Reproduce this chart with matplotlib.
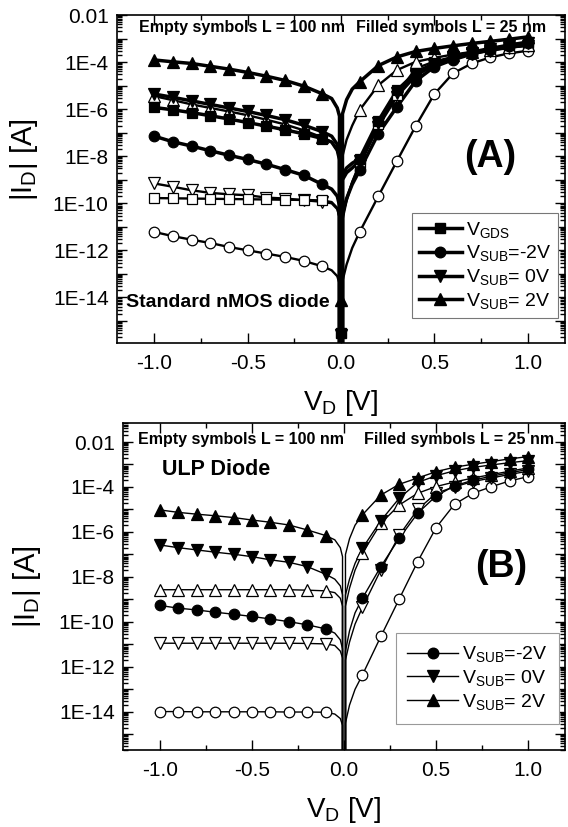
import numpy as np
import matplotlib
matplotlib.use('Agg')
import matplotlib.pyplot as plt
from matplotlib.lines import Line2D
from matplotlib.ticker import FixedLocator, LogLocator, FuncFormatter, MultipleLocator

plt.rcParams['font.family'] = ['Liberation Sans', 'DejaVu Sans']
plt.rcParams['mathtext.fontset'] = 'custom'
plt.rcParams['mathtext.rm'] = 'Liberation Sans'
plt.rcParams['mathtext.it'] = 'Liberation Sans:italic'
plt.rcParams['mathtext.bf'] = 'Liberation Sans:bold'
plt.rcParams['axes.unicode_minus'] = False

# drain voltage grid: markers every 0.1 V, plus a few points close to 0 V for the lines
V_LINE = [-1.0, -0.9, -0.8, -0.7, -0.6, -0.5, -0.4, -0.3, -0.2, -0.1,
          -0.05, -0.02, -0.008, 0.008, 0.03, 0.06,
          0.1, 0.2, 0.3, 0.4, 0.5, 0.6, 0.7, 0.8, 0.9, 1.0]

# log10(|I_D| / A)
# (A) standard nMOS diode
A_L25_GDS = [-5.93, -6.03, -6.15, -6.28, -6.42, -6.57, -6.72, -6.88, -7.05, -7.25,
             -7.4, -7.75, -8.15, -8.8, -8.5, -8.3,
             -8.1, -6.5, -5.2, -4.45, -4.05, -3.80, -3.58, -3.42, -3.28, -3.15]
A_L25_M2 = [-7.15, -7.39, -7.57, -7.77, -7.96, -8.14, -8.34, -8.57, -8.81, -9.20,
            -9.4, -9.7, -10.1, -10.4, -9.8, -9.2,
            -8.6, -7.04, -5.90, -4.80, -4.20, -3.90, -3.66, -3.48, -3.33, -3.20]
A_L25_0V = [-5.36, -5.50, -5.65, -5.80, -5.95, -6.10, -6.27, -6.45, -6.68, -6.96,
            -7.15, -7.5, -7.9, -9.0, -8.7, -8.5,
            -8.2, -6.6, -5.3, -4.55, -4.13, -3.85, -3.62, -3.45, -3.30, -3.17]
A_L25_2V = [-3.91, -3.99, -4.06, -4.18, -4.30, -4.44, -4.60, -4.78, -5.02, -5.35,
            -5.55, -5.95, -6.3, -6.2, -5.6, -5.15,
            -4.84, -4.15, -3.78, -3.55, -3.42, -3.31, -3.21, -3.12, -3.03, -2.93]
A_L100_GDS = [-9.78, -9.79, -9.80, -9.81, -9.82, -9.83, -9.84, -9.85, -9.86, -9.88,
              -9.95, -10.2, -10.6, -10.7, -9.9, -9.1,
              -8.3, -6.65, -5.38, -4.27, -3.98, -3.78, -3.63, -3.50, -3.39, -3.30]
A_L100_M2 = [-11.22, -11.40, -11.55, -11.69, -11.86, -12.00, -12.14, -12.28, -12.45, -12.68,
             -12.85, -13.1, -13.4, -13.3, -12.6, -11.9,
             -11.22, -9.70, -8.20, -6.72, -5.36, -4.48, -4.06, -3.80, -3.63, -3.52]
A_L100_0V = [-9.16, -9.30, -9.45, -9.56, -9.62, -9.66, -9.76, -9.80, -9.87, -9.94,
             -10.0, -10.25, -10.6, -10.6, -9.8, -9.1,
             -8.38, -6.75, -5.47, -4.60, -4.09, -3.80, -3.65, -3.52, -3.40, -3.30]
A_L100_2V = [-5.45, -5.62, -5.80, -5.95, -6.10, -6.26, -6.45, -6.65, -6.90, -7.20,
             -7.4, -7.75, -8.1, -8.0, -7.3, -6.7,
             -6.04, -4.98, -4.34, -3.99, -3.82, -3.68, -3.57, -3.47, -3.38, -3.29]
# (A) points measured at V_D = 0
A_ZERO_L25_2V = -14.1
A_ZERO_L25_GDS = -15.5
A_ZERO_L25_0V = -15.6

# (B) ULP diode
B_L25_M2 = [-9.27, -9.39, -9.47, -9.57, -9.66, -9.76, -9.87, -9.99, -10.13, -10.31,
            -10.5, -10.8, -11.2, -11.3, -10.4, -9.6,
            -8.95, -7.54, -6.28, -5.17, -4.40, -3.95, -3.70, -3.52, -3.37, -3.22]
B_L25_0V = [-6.58, -6.70, -6.80, -6.90, -6.99, -7.10, -7.24, -7.35, -7.54, -7.88,
            -8.1, -8.4, -8.8, -8.8, -8.1, -7.4,
            -6.73, -5.5, -4.5, -3.80, -3.50, -3.28, -3.13, -3.02, -2.92, -2.83]
B_L25_2V = [-5.02, -5.13, -5.21, -5.28, -5.36, -5.47, -5.57, -5.69, -5.91, -6.16,
            -6.35, -6.7, -7.1, -7.0, -6.3, -5.7,
            -5.24, -4.36, -3.88, -3.60, -3.32, -3.12, -2.99, -2.87, -2.75, -2.65]
B_L100_M2 = [-13.99, -13.99, -14.0, -14.0, -14.0, -14.0, -14.0, -14.01, -14.01, -14.02,
             -14.1, -14.3, -14.6, -14.5, -13.7, -13.0,
             -12.36, -10.65, -8.98, -7.32, -5.81, -4.77, -4.28, -3.99, -3.73, -3.54]
B_L100_0V = [-10.95, -10.95, -10.95, -10.95, -10.95, -10.95, -10.95, -10.95, -10.96, -10.98,
             -11.05, -11.3, -11.6, -11.7, -10.9, -10.1,
             -9.36, -7.69, -6.15, -5.0, -4.28, -3.99, -3.76, -3.60, -3.44, -3.30]
B_L100_2V = [-8.57, -8.57, -8.57, -8.57, -8.57, -8.57, -8.57, -8.57, -8.59, -8.62,
             -8.7, -8.95, -9.3, -9.3, -8.5, -7.7,
             -6.95, -5.62, -4.80, -4.28, -3.98, -3.78, -3.60, -3.45, -3.30, -3.15]

LEG_A = [r'V$_{\rm GDS}$', r'V$_{\rm SUB}$=-2V', r'V$_{\rm SUB}$= 0V', r'V$_{\rm SUB}$= 2V']
LEG_B = [r'V$_{\rm SUB}$=-2V', r'V$_{\rm SUB}$= 0V', r'V$_{\rm SUB}$= 2V']
MS = {'s': 7.0, 'o': 7.6, 'v': 8.2, '^': 8.2}


def draw(ax, logs, marker, filled, lw):
    v = np.array(V_LINE)
    cur = 10.0 ** np.array(logs)
    k = np.searchsorted(v, 0.0)
    # |I| = 0 at V = 0: the log axis sends the line straight down
    ax.plot(np.insert(v, k, 0.0), np.insert(cur, k, 0.0), color='k', lw=lw,
            zorder=2, solid_joinstyle='round')
    grid = np.isclose(v * 10, np.round(v * 10))
    ax.plot(v[grid], cur[grid], ls='none', marker=marker, ms=MS[marker],
            mfc='k' if filled else 'white', mec='k', mew=0.9, zorder=3)


def fmt(y, pos):
    e = int(round(np.log10(y)))
    if e % 2:
        return ''
    return '0.01' if e == -2 else '1E%d' % e


def style(ax, ylim):
    ax.set_yscale('log')
    ax.set_xlim(-1.2, 1.2)
    ax.set_ylim(*ylim)
    ax.xaxis.set_major_locator(MultipleLocator(0.5))
    ax.xaxis.set_minor_locator(MultipleLocator(0.25))
    ax.xaxis.set_major_formatter(FuncFormatter(lambda x, p: '%.1f' % x))
    ax.yaxis.set_major_locator(FixedLocator([10.0 ** e for e in range(-1, -18, -1)]))
    ax.yaxis.set_minor_locator(LogLocator(base=10, subs=np.arange(2, 10), numticks=60))
    ax.yaxis.set_major_formatter(FuncFormatter(fmt))
    ax.tick_params(which='both', direction='in', top=True, right=True, width=1.0)
    ax.tick_params(which='major', length=7, labelsize=15, pad=6)
    ax.tick_params(which='minor', length=3.5)
    ax.tick_params(axis='x', which='major', pad=8)
    for s in ax.spines.values():
        s.set_linewidth(1.2)


fig = plt.figure(figsize=(5.68, 8.27), dpi=100)
axA = fig.add_axes([117 / 568, 1 - 343 / 827, 448 / 568, 328 / 827])
axB = fig.add_axes([123 / 568, 1 - 750 / 827, 442 / 568, 327 / 827])

# panel A
for logs, m, f in [(A_L100_M2, 'o', False), (A_L100_0V, 'v', False), (A_L100_GDS, 's', False),
                   (A_L100_2V, '^', False)]:
    draw(axA, logs, m, f, 1.7)
for logs, m, f in [(A_L25_M2, 'o', True), (A_L25_0V, 'v', True), (A_L25_GDS, 's', True),
                   (A_L25_2V, '^', True)]:
    draw(axA, logs, m, f, 2.5)
for val, m in [(A_ZERO_L25_2V, '^'), (A_ZERO_L25_GDS, 's'), (A_ZERO_L25_0V, 'v')]:
    axA.plot([0.0], [10.0 ** val], ls='none', marker=m, ms=MS[m], mfc='k', mec='k', zorder=3)
style(axA, (1.15e-16, 1e-2))

hA = [Line2D([], [], color='k', lw=2.5, marker=m, ms=MS[m], mfc='k', mec='k')
      for m in ['s', 'o', 'v', '^']]
legA = axA.legend(hA, LEG_A, loc='lower right', bbox_to_anchor=(0.984, 0.076),
                  fontsize=14, handlelength=2.2, handletextpad=0.2, labelspacing=0.2,
                  borderpad=0.35, borderaxespad=0, fancybox=False, framealpha=1,
                  edgecolor='#777777')
legA.get_frame().set_linewidth(0.8)

axA.text(-1.08, 10 ** -2.51, 'Empty symbols L = 100 nm', fontsize=11.5, fontweight='bold',
         va='center', ha='left')
axA.text(0.08, 10 ** -2.51, 'Filled symbols L = 25 nm', fontsize=11.5, fontweight='bold',
         va='center', ha='left')
axA.text(-1.15, 10 ** -14.2, 'Standard nMOS diode', fontsize=14, fontweight='bold',
         va='center', ha='left')
axA.text(0.80, 10 ** -8.04, '(A)', fontsize=27, fontweight='bold', va='center', ha='center')
axA.set_xlabel(r'V$_{\rm D}$ [V]', fontsize=20)
axA.set_ylabel(r'|I$_{\rm D}$| [A]', fontsize=21)
axA.xaxis.set_label_coords(0.5, -0.137)
axA.yaxis.set_label_coords(-0.172, 0.56)

# panel B
for logs, m, f in [(B_L100_M2, 'o', False), (B_L100_0V, 'v', False), (B_L100_2V, '^', False),
                   (B_L25_M2, 'o', True), (B_L25_0V, 'v', True), (B_L25_2V, '^', True)]:
    draw(axB, logs, m, f, 1.0)
style(axB, (2e-16, 7e-2))

hB = [Line2D([], [], color='k', lw=1.0, marker=m, ms=MS[m], mfc='k', mec='k')
      for m in ['o', 'v', '^']]
legB = axB.legend(hB, LEG_B, loc='lower right', bbox_to_anchor=(0.986, 0.08),
                  fontsize=14, handlelength=2.6, handletextpad=0.2, labelspacing=0.2,
                  borderpad=0.6, borderaxespad=0, fancybox=False, framealpha=1,
                  edgecolor='#999999')
legB.get_frame().set_linewidth(0.8)

axB.text(-1.117, 10 ** -1.87, 'Empty symbols L = 100 nm', fontsize=11.5, fontweight='bold',
         va='center', ha='left')
axB.text(0.108, 10 ** -1.87, 'Filled symbols L = 25 nm', fontsize=11.5, fontweight='bold',
         va='center', ha='left')
axB.text(-0.99, 10 ** -3.24, 'ULP Diode', fontsize=15.5, fontweight='bold',
         va='center', ha='left')
axB.text(0.856, 10 ** -7.56, '(B)', fontsize=27, fontweight='bold', va='center', ha='center')
axB.set_xlabel(r'V$_{\rm D}$ [V]', fontsize=20)
axB.set_ylabel(r'|I$_{\rm D}$| [A]', fontsize=21)
axB.xaxis.set_label_coords(0.5, -0.138)
axB.yaxis.set_label_coords(-0.181, 0.5)

fig.savefig('out.png', dpi=100)
